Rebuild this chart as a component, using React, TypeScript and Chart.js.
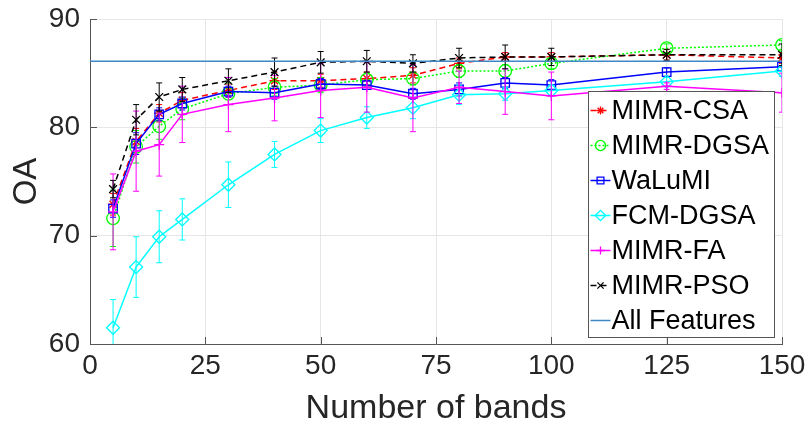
import React, { useEffect, useRef } from 'react';
import { Chart, registerables } from 'chart.js';
import { drawPoint } from 'chart.js/helpers';

Chart.register(...registerables);

const bands = [5, 10, 15, 20, 30, 40, 50, 60, 70, 80, 90, 100, 125, 150];

const csa = [72.9, 78.7, 81.3, 82.5, 83.4, 84.3, 84.3, 84.5, 84.8, 85.9, 86.5, 86.5, 86.7, 86.4];
const csaErr = [1.0, 1.2, 0.8, 0.7, 0.6, 0.8, 0.6, 0.6, 0.7, 0.5, 0.4, 0.4, 0.5, 0.5];

const dgsa = [71.6, 78.2, 80.1, 81.7, 83.1, 83.7, 83.9, 84.4, 84.5, 85.2, 85.2, 85.9, 87.3, 87.6];
const dgsaErr = [2.6, 1.5, 1.2, 1.0, 1.0, 0.8, 0.7, 0.6, 0.6, 0.6, 0.6, 0.5, 0.4, 0.4];

const walumi = [72.5, 78.5, 81.2, 82.2, 83.3, 83.2, 84.0, 83.9, 83.1, 83.5, 84.1, 83.9, 85.1, 85.6];
const walumiErr = [0.8, 1.0, 0.6, 0.6, 0.5, 0.6, 0.5, 0.4, 0.5, 0.6, 0.5, 0.5, 0.4, 0.4];

const fcm = [61.5, 67.1, 69.9, 71.5, 74.7, 77.5, 79.7, 80.9, 81.8, 83.0, 83.1, 83.4, 84.2, 85.2];
const fcmErr = [2.6, 2.8, 2.4, 1.9, 2.1, 1.2, 1.1, 1.0, 1.0, 0.9, 0.6, 0.5, 0.4, 0.5];

const fa = [72.2, 77.8, 78.4, 81.2, 82.1, 82.7, 83.4, 83.7, 82.7, 83.7, 83.3, 82.9, 83.8, 83.2];
const faErr = [3.5, 3.7, 2.9, 2.6, 2.5, 2.1, 2.5, 2.3, 3.1, 1.5, 2.1, 2.2, 0.3, 1.8];

const pso = [74.3, 80.7, 82.8, 83.5, 84.3, 85.1, 86.0, 86.1, 85.9, 86.4, 86.5, 86.5, 86.7, 86.7];
const psoErr = [0.8, 1.4, 1.3, 1.1, 1.1, 1.3, 1.0, 1.0, 0.8, 0.9, 1.1, 0.8, 0.5, 1.0];

const allFeaturesX = [0, 150];
const allFeaturesY = [86.1, 86.1];

const xTicks = [0, 25, 50, 75, 100, 125, 150];
const yTicks = [60, 70, 80, 90];

const FONT = "'Liberation Sans', Arial, sans-serif";
const TEXT = '#262626';

const pts = (xs: number[], ys: number[]) => xs.map((x, i) => ({ x, y: ys[i] }));

const errorBarPlugin = {
  id: 'errorBars',
  afterDatasetDraw(chart: any, args: any) {
    const ds: any = chart.data.datasets[args.index];
    const errs: number[] | undefined = ds.errors;
    if (!errs) return;
    const { ctx, chartArea } = chart;
    const xs = chart.scales.x;
    const ys = chart.scales.y;
    ctx.save();
    ctx.beginPath();
    ctx.rect(chartArea.left, chartArea.top, chartArea.right - chartArea.left, chartArea.bottom - chartArea.top);
    ctx.clip();
    ctx.strokeStyle = ds.borderColor;
    ctx.lineWidth = 1;
    ctx.setLineDash([]);
    ds.data.forEach((p: any, i: number) => {
      const px = xs.getPixelForValue(p.x);
      const top = ys.getPixelForValue(p.y + errs[i]);
      const bot = ys.getPixelForValue(p.y - errs[i]);
      ctx.beginPath();
      ctx.moveTo(px, top);
      ctx.lineTo(px, bot);
      ctx.moveTo(px - 3, top);
      ctx.lineTo(px + 3, top);
      ctx.moveTo(px - 3, bot);
      ctx.lineTo(px + 3, bot);
      ctx.stroke();
    });
    ctx.restore();
  },
};

const decorPlugin = {
  id: 'decor',
  afterDraw(chart: any) {
    const { ctx, chartArea } = chart;
    const xs = chart.scales.x;
    const ys = chart.scales.y;
    ctx.save();
    // inward tick marks
    ctx.strokeStyle = '#555';
    ctx.lineWidth = 1;
    ctx.beginPath();
    xTicks.forEach((v) => {
      const px = Math.round(xs.getPixelForValue(v)) + 0.5;
      ctx.moveTo(px, chartArea.bottom);
      ctx.lineTo(px, chartArea.bottom - 7);
    });
    yTicks.forEach((v) => {
      const py = Math.round(ys.getPixelForValue(v)) + 0.5;
      ctx.moveTo(chartArea.left, py);
      ctx.lineTo(chartArea.left + 7, py);
    });
    ctx.stroke();

    // legend
    const left = 588.5;
    const top = 91.5;
    const w = 186;
    const h = 246;
    ctx.fillStyle = '#ffffff';
    ctx.fillRect(left, top, w, h);
    ctx.strokeStyle = '#555';
    ctx.lineWidth = 1;
    ctx.strokeRect(left, top, w, h);
    ctx.font = `27px ${FONT}`;
    ctx.textBaseline = 'middle';
    ctx.textAlign = 'left';
    chart.data.datasets.forEach((ds: any, i: number) => {
      const cy = top + 19 + i * 35;
      ctx.save();
      ctx.strokeStyle = ds.borderColor;
      ctx.lineWidth = ds.borderWidth;
      ctx.setLineDash(ds.borderDash || []);
      ctx.beginPath();
      ctx.moveTo(left + 2, cy);
      ctx.lineTo(left + 22, cy);
      ctx.stroke();
      ctx.setLineDash([]);
      if (ds.pointStyle && ds.pointRadius > 0) {
        ctx.fillStyle = 'rgba(0,0,0,0)';
        ctx.lineWidth = ds.pointBorderWidth;
        drawPoint(ctx, { pointStyle: ds.pointStyle, radius: ds.pointRadius * 0.8, rotation: 0, borderWidth: ds.pointBorderWidth } as any, left + 12, cy);
      }
      ctx.restore();
      ctx.fillStyle = '#000';
      ctx.fillText(ds.label, left + 23, cy + 1);
    });
    ctx.restore();
  },
};

export default function App() {
  const ref = useRef<HTMLCanvasElement | null>(null);

  useEffect(() => {
    if (!ref.current) return;
    const mk = (label: string, ys: number[], errs: number[], color: string, style: string, radius: number, dash: number[], order: number) => ({
      label,
      data: pts(bands, ys),
      errors: errs,
      borderColor: color,
      backgroundColor: 'rgba(0,0,0,0)',
      borderWidth: 1.5,
      borderDash: dash,
      pointStyle: style,
      pointRadius: radius,
      pointBorderWidth: 1.3,
      pointBorderColor: color,
      pointBackgroundColor: 'rgba(0,0,0,0)',
      tension: 0,
      fill: false,
      order,
    });
    const chart = new Chart(ref.current, {
      type: 'line',
      data: {
        datasets: [
          mk('MIMR-CSA', csa, csaErr, '#ff0000', 'star', 5, [6, 4], 7),
          mk('MIMR-DGSA', dgsa, dgsaErr, '#00ff00', 'circle', 6.3, [2, 2], 6),
          mk('WaLuMI', walumi, walumiErr, '#0000ff', 'rect', 6, [], 5),
          mk('FCM-DGSA', fcm, fcmErr, '#00ffff', 'rectRot', 6.5, [], 4),
          mk('MIMR-FA', fa, faErr, '#ff00ff', 'cross', 5, [], 3),
          mk('MIMR-PSO', pso, psoErr, '#000000', 'crossRot', 5.5, [6, 4], 2),
          {
            label: 'All Features',
            data: pts(allFeaturesX, allFeaturesY),
            borderColor: '#3f88c5',
            backgroundColor: 'rgba(0,0,0,0)',
            borderWidth: 1.5,
            borderDash: [],
            pointRadius: 0,
            pointStyle: false as any,
            fill: false,
            order: 1,
          } as any,
        ],
      },
      options: {
        responsive: false,
        animation: false,
        layout: { padding: { left: 0, right: 26, top: 19, bottom: 0 } },
        plugins: { legend: { display: false }, tooltip: { enabled: false } },
        scales: {
          x: {
            type: 'linear',
            min: 0,
            max: 150,
            afterBuildTicks: (s: any) => {
              s.ticks = xTicks.map((v) => ({ value: v }));
            },
            afterFit: (s: any) => {
              s.height = 88;
              s.paddingLeft = 0;
              s.paddingRight = 0;
            },
            grid: { color: '#e6e6e6', drawTicks: false, lineWidth: 1 },
            border: { color: '#555', width: 1 },
            ticks: { font: { family: FONT, size: 28 }, color: TEXT, padding: 5, maxRotation: 0, autoSkip: false },
            title: { display: true, text: 'Number of bands', font: { family: FONT, size: 34 }, color: TEXT, padding: { top: 0, bottom: 3 } },
          },
          y: {
            type: 'linear',
            min: 60,
            max: 90,
            afterBuildTicks: (s: any) => {
              s.ticks = yTicks.map((v) => ({ value: v }));
            },
            afterFit: (s: any) => {
              s.width = 90;
              s.paddingTop = 0;
              s.paddingBottom = 0;
            },
            grid: { color: '#e6e6e6', drawTicks: false, lineWidth: 1 },
            border: { color: '#555', width: 1 },
            ticks: { font: { family: FONT, size: 28 }, color: TEXT, padding: 10 },
            title: { display: true, text: 'OA', font: { family: FONT, size: 33 }, color: TEXT, padding: { top: 7, bottom: 0 } },
          },
        },
      } as any,
      plugins: [errorBarPlugin, decorPlugin],
    });
    return () => chart.destroy();
  }, []);

  return (
    <div style={{ position: 'absolute', left: 0, top: 0, width: 808, height: 432, background: '#fff' }}>
      <canvas ref={ref} width={808} height={432} style={{ display: 'block', width: 808, height: 432 }} />
    </div>
  );
}
